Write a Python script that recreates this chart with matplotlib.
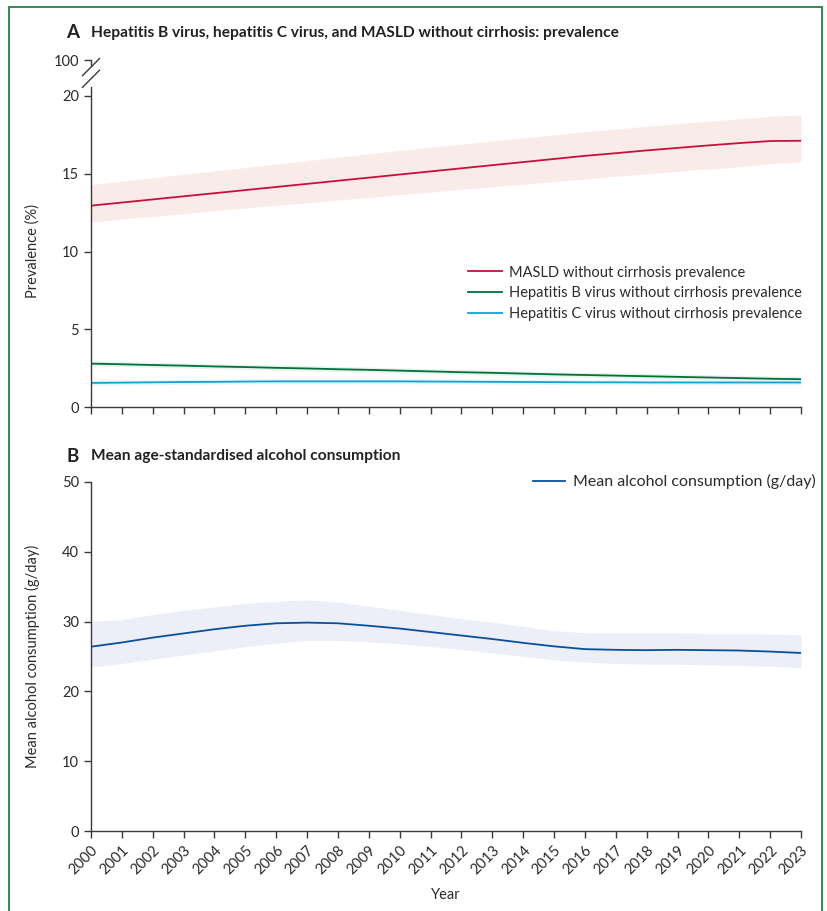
import matplotlib

matplotlib.use("Agg")

import matplotlib.pyplot as plt
import numpy as np
from matplotlib.patches import Rectangle

plt.rcParams["font.family"] = ["Lato", "DejaVu Sans"]
plt.rcParams["font.size"] = 10.5

years = list(range(2000, 2024))

masld = [12.95, 13.15, 13.35, 13.55, 13.75, 13.95, 14.15, 14.35, 14.55, 14.75, 14.95, 15.15,
         15.35, 15.55, 15.75, 15.95, 16.15, 16.32, 16.50, 16.66, 16.82, 16.97, 17.10, 17.12]
masld_upper = [14.30, 14.52, 14.74, 14.96, 15.18, 15.40, 15.62, 15.84, 16.06, 16.28, 16.50, 16.70,
               16.90, 17.10, 17.30, 17.50, 17.70, 17.88, 18.05, 18.22, 18.38, 18.53, 18.70, 18.78]
masld_lower = [11.90, 12.08, 12.26, 12.44, 12.62, 12.80, 12.97, 13.14, 13.31, 13.48, 13.65, 13.82,
               13.99, 14.16, 14.33, 14.50, 14.67, 14.84, 15.00, 15.15, 15.30, 15.45, 15.65, 15.75]

hbv = [2.80, 2.76, 2.71, 2.67, 2.62, 2.58, 2.53, 2.49, 2.44, 2.40, 2.35, 2.30,
       2.25, 2.21, 2.16, 2.11, 2.07, 2.03, 1.99, 1.95, 1.91, 1.87, 1.83, 1.80]
hbv_upper = [v + 0.18 for v in hbv]
hbv_lower = [v - 0.15 for v in hbv]

hcv = [1.56, 1.58, 1.60, 1.62, 1.63, 1.65, 1.66, 1.66, 1.66, 1.66, 1.66, 1.65,
       1.64, 1.63, 1.62, 1.61, 1.60, 1.60, 1.59, 1.59, 1.59, 1.59, 1.59, 1.59]
hcv_upper = [v + 0.17 for v in hcv]
hcv_lower = [v - 0.15 for v in hcv]

alcohol = [26.4, 27.0, 27.7, 28.3, 28.9, 29.4, 29.75, 29.85, 29.75, 29.4, 29.0, 28.5,
           28.0, 27.5, 26.95, 26.45, 26.05, 25.95, 25.9, 25.95, 25.9, 25.85, 25.7, 25.5]
alcohol_upper = [30.0, 30.3, 31.0, 31.6, 32.1, 32.6, 32.9, 33.1, 32.8, 32.2, 31.6, 31.0,
                 30.4, 29.9, 29.3, 28.7, 28.4, 28.4, 28.4, 28.4, 28.3, 28.3, 28.2, 28.1]
alcohol_lower = [23.5, 24.0, 24.6, 25.2, 25.8, 26.4, 26.9, 27.3, 27.3, 27.1, 26.8, 26.4,
                 26.0, 25.5, 25.0, 24.5, 24.2, 24.0, 23.9, 23.9, 23.8, 23.7, 23.6, 23.4]

AXIS_COLOR = "#3a3a3a"
TEXT_COLOR = "#2b2b2b"


def style_axes(ax):
    for side in ("top", "right"):
        ax.spines[side].set_visible(False)
    for side in ("left", "bottom"):
        ax.spines[side].set_color(AXIS_COLOR)
        ax.spines[side].set_linewidth(1.0)
    ax.tick_params(direction="out", length=5, width=1.0, color=AXIS_COLOR,
                   labelcolor=TEXT_COLOR, labelsize=10.5)
    ax.set_xlim(years[0], years[-1])
    ax.set_xticks(years)


fig = plt.figure(figsize=(8.27, 9.11), dpi=100)

# panel A: prevalence with a broken y axis (20 -> 100)
ax_a = fig.add_axes([0.110, 0.553, 0.8586, 0.381])
style_axes(ax_a)
top_pos = 22.3
ax_a.set_ylim(0, top_pos)
ax_a.set_yticks([0, 5, 10, 15, 20, top_pos])
ax_a.set_yticklabels(["0", "5", "10", "15", "20", "100"])
ax_a.set_xticklabels([])
ax_a.spines["left"].set_bounds(0, 20.6)

ax_a.fill_between(years, masld_lower, masld_upper, color="#f9ebe8", lw=0)
ax_a.fill_between(years, hbv_lower, hbv_upper, color="#e8f3ec", lw=0)
ax_a.fill_between(years, hcv_lower, hcv_upper, color="#e6f5fa", lw=0)
ax_a.plot(years, masld, color="#c8103e", lw=1.3, label="MASLD without cirrhosis prevalence")
ax_a.plot(years, hbv, color="#00703c", lw=1.3, label="Hepatitis B virus without cirrhosis prevalence")
ax_a.plot(years, hcv, color="#13a3d0", lw=1.3, label="Hepatitis C virus without cirrhosis prevalence")

# short stub under the "100" tick and the two break slashes
ax_a.plot([years[0], years[0]], [21.9, top_pos], color=AXIS_COLOR, lw=1.0, clip_on=False)
trans = ax_a.get_yaxis_transform()
for y0 in (20.55, 21.3):
    ax_a.plot([-0.012, 0.012], [y0, y0 + 1.1], color=AXIS_COLOR, lw=1.0,
              transform=trans, clip_on=False)

ax_a.set_ylabel("Prevalence (%)", color=TEXT_COLOR, fontsize=10.5, labelpad=8)
ax_a.yaxis.set_label_coords(-0.072, 0.45)
leg_a = ax_a.legend(loc="upper right", bbox_to_anchor=(1.01, 0.425), frameon=False,
                    fontsize=10.5, handlelength=2.3, handletextpad=0.5, labelspacing=0.45,
                    borderaxespad=0)
for t in leg_a.get_texts():
    t.set_color(TEXT_COLOR)

# panel B: alcohol consumption
ax_b = fig.add_axes([0.110, 0.0878, 0.8586, 0.3832])
style_axes(ax_b)
ax_b.set_ylim(0, 50)
ax_b.set_yticks(range(0, 51, 10))
ax_b.fill_between(years, alcohol_lower, alcohol_upper, color="#eceff7", lw=0)
ax_b.plot(years, alcohol, color="#0a4f9c", lw=1.3, label="Mean alcohol consumption (g/day)")
ax_b.set_xticklabels([str(y) for y in years], rotation=45, ha="right", va="top",
                     rotation_mode="anchor")
ax_b.set_xlabel("Year", color=TEXT_COLOR, fontsize=10.5, labelpad=8)
ax_b.set_ylabel("Mean alcohol consumption (g/day)", color=TEXT_COLOR, fontsize=10.5)
ax_b.yaxis.set_label_coords(-0.072, 0.5)
leg_b = ax_b.legend(loc="upper right", bbox_to_anchor=(1.03, 1.04), frameon=False,
                    fontsize=11.5, handlelength=2.0, handletextpad=0.5, borderaxespad=0)
for t in leg_b.get_texts():
    t.set_color(TEXT_COLOR)

# panel headings
fig.text(0.080, 0.964, "A", fontsize=13.5, fontweight="bold", color="#222222", va="center")
fig.text(0.110, 0.964, "Hepatitis B virus, hepatitis C virus, and MASLD without cirrhosis: prevalence",
         fontsize=11.2, fontweight="bold", color="#222222", va="center")
fig.text(0.080, 0.499, "B", fontsize=13.5, fontweight="bold", color="#222222", va="center")
fig.text(0.110, 0.499, "Mean age-standardised alcohol consumption",
         fontsize=11.2, fontweight="bold", color="#222222", va="center")

# green frame around the figure
fig.patches.append(Rectangle((0.0105, -0.02), 0.983, 1.0123, transform=fig.transFigure,
                             fill=False, edgecolor="#2e8b57", linewidth=1.4))

fig.savefig("out.png", dpi=100)
